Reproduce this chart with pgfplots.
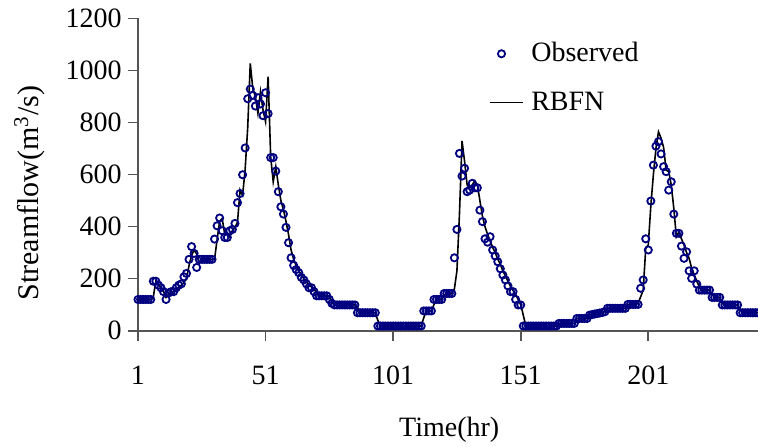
\documentclass[border=0pt]{standalone}
\usepackage{fontspec}
\setmainfont{Liberation Serif}
\usepackage{pgfplots}
\usepackage{pgfplotstable}
\pgfplotsset{compat=1.18}
\definecolor{obsblue}{HTML}{000080}
\definecolor{axisgray}{HTML}{555555}
\pgfplotsset{
  obslegend/.style={legend image code/.code={\draw[##1] plot coordinates {(0bp,0bp)};}},
  linelegend/.style={legend image code/.code={\draw[##1] (-6bp,0bp) -- (10.5bp,0bp);}},
}

% observed streamflow (m3/s), hourly
\pgfplotstableread{
t q
1 120
2 120
3 120
4 120
5 120
6 120
7 190
8 190
9 175
10 165
11 150
12 120
13 145
14 150
15 150
16 165
17 175
18 180
19 207
20 220
21 274
22 323
23 297
24 243
25 274
26 274
27 274
28 274
29 274
30 274
31 352
32 403
33 433
34 384
35 358
36 358
37 384
38 389
39 412
40 492
41 527
42 599
43 702
44 891
45 928
46 904
47 863
48 895
49 871
50 826
51 914
52 834
53 665
54 665
55 613
56 534
57 476
58 448
59 397
60 338
61 280
62 251
63 235
64 223
65 205
66 195
67 180
68 165
69 165
70 150
71 134
72 134
73 134
74 134
75 134
76 120
77 105
78 99
79 99
80 99
81 99
82 99
83 99
84 99
85 99
86 99
87 69
88 69
89 69
90 69
91 69
92 69
93 69
94 69
95 18
96 18
97 18
98 18
99 18
100 18
101 18
102 18
103 18
104 18
105 18
106 18
107 18
108 18
109 18
110 18
111 18
112 18
113 76
114 76
115 76
116 76
117 120
118 120
119 120
120 120
121 143
122 143
123 143
124 143
125 280
126 389
127 681
128 594
129 624
130 534
131 540
132 566
133 549
134 549
135 463
136 419
137 353
138 340
139 361
140 310
141 287
142 265
143 238
144 214
145 195
146 172
147 150
148 150
149 120
150 99
151 99
152 18
153 18
154 18
155 18
156 18
157 18
158 18
159 18
160 18
161 18
162 18
163 18
164 18
165 18
166 28
167 28
168 28
169 28
170 28
171 28
172 28
173 47
174 47
175 47
176 47
177 47
178 60
179 62
180 64
181 66
182 68
183 70
184 73
185 86
186 86
187 86
188 86
189 86
190 86
191 86
192 86
193 101
194 101
195 101
196 101
197 101
198 163
199 195
200 353
201 310
202 498
203 636
204 709
205 726
206 679
207 630
208 611
209 540
210 572
211 448
212 374
213 374
214 325
215 278
216 303
217 230
218 201
219 230
220 179
221 156
222 156
223 156
224 156
225 156
226 128
227 128
228 128
229 128
230 99
231 99
232 99
233 99
234 99
235 99
236 99
237 69
238 69
239 69
240 69
241 69
242 69
243 69
244 69
}\observed

% RBFN simulated streamflow
\pgfplotstableread{
t q
1 120
2 120
3 120
4 120
5 120
6 120
7 130
8 190
9 180
10 165
11 150
12 128
13 140
14 148
15 150
16 155
17 165
18 175
19 185
20 200
21 250
22 290
23 310
24 295
25 260
26 270
27 274
28 274
29 274
30 274
31 274
32 350
33 420
34 431
35 370
36 375
37 360
38 385
39 395
40 417
41 540
42 520
43 620
44 780
45 1027
46 930
47 900
48 835
49 918
50 848
51 803
52 976
53 668
54 572
55 630
56 560
57 500
58 465
59 420
60 370
61 310
62 275
63 250
64 230
65 215
66 200
67 190
68 175
69 168
70 160
71 145
72 134
73 134
74 134
75 134
76 130
77 110
78 99
79 99
80 99
81 99
82 99
83 99
84 99
85 99
86 99
87 90
88 69
89 69
90 69
91 69
92 69
93 69
94 69
95 40
96 18
97 18
98 18
99 18
100 18
101 18
102 18
103 18
104 18
105 18
106 18
107 18
108 18
109 18
110 18
111 18
112 18
113 50
114 76
115 76
116 76
117 100
118 120
119 120
120 120
121 135
122 143
123 143
124 143
125 160
126 230
127 450
128 729
129 650
130 560
131 550
132 560
133 576
134 560
135 500
136 440
137 400
138 370
139 345
140 320
141 300
142 275
143 255
144 230
145 210
146 190
147 170
148 155
149 140
150 120
151 100
152 60
153 18
154 18
155 18
156 18
157 18
158 18
159 18
160 18
161 18
162 18
163 18
164 18
165 18
166 28
167 28
168 28
169 28
170 28
171 28
172 28
173 47
174 47
175 47
176 47
177 47
178 60
179 62
180 64
181 66
182 68
183 70
184 73
185 86
186 86
187 86
188 86
189 86
190 86
191 86
192 86
193 101
194 101
195 101
196 101
197 105
198 130
199 156
200 316
201 330
202 480
203 600
204 700
205 764
206 740
207 704
208 617
209 611
210 560
211 470
212 361
213 380
214 353
215 330
216 300
217 278
218 240
219 215
220 190
221 170
222 156
223 156
224 156
225 156
226 140
227 128
228 128
229 128
230 105
231 99
232 99
233 99
234 99
235 99
236 99
237 80
238 69
239 69
240 69
241 69
242 69
243 69
244 69
}\rbfn

\begin{document}
\begin{tikzpicture}[font=\fontsize{14bp}{17bp}\selectfont]
\begin{axis}[
  scale only axis,
  width=310bp, height=156.2bp,
  xmin=1, xmax=244,
  ymin=0, ymax=1200,
  xtick={1,51,101,151,201},
  ytick={0,200,...,1200},
  axis x line*=bottom, axis y line*=left,
  axis line style={axisgray, line width=0.8bp, -},
  tick style={axisgray, line width=0.8bp},
  tick align=outside,
  major tick length=5bp,
  /pgf/number format/assume math mode=true,
  /pgf/number format/1000 sep={},
  xticklabel style={anchor=north, inner sep=0pt, yshift=-12.5bp},
  yticklabel style={anchor=east, inner sep=0pt, xshift=-3bp},
  xlabel={Time(hr)},
  ylabel={Streamflow(m\textsuperscript{3}/s)},
  xlabel style={at={(axis description cs:0.502,-0.318)}, anchor=center},
  ylabel style={at={(axis description cs:-0.175,0.44)}, anchor=center,
    font=\fontsize{15bp}{18bp}\selectfont},
  legend style={at={(axis description cs:0.565,0.93)}, anchor=north west,
    draw=none, fill=none, inner sep=0pt, row sep=11.5bp, column sep=3bp,
    nodes={inner sep=1bp}},
  legend cell align=left,
]
\addplot[only marks, mark=o, mark size=1.8bp, obsblue,
  mark options={line width=0.9bp}, obslegend]
  table[x=t, y=q] {\observed};
\addlegendentry{Observed}
\addplot[black, line width=0.8bp, mark=none, linelegend]
  table[x=t, y=q] {\rbfn};
\addlegendentry{RBFN}
\end{axis}
\pgfresetboundingbox
\path[use as bounding box] ([xshift=-69bp, yshift=-58.15bp]current axis.south west)
  rectangle ([yshift=9.15bp]current axis.north east);
\end{tikzpicture}
\end{document}
